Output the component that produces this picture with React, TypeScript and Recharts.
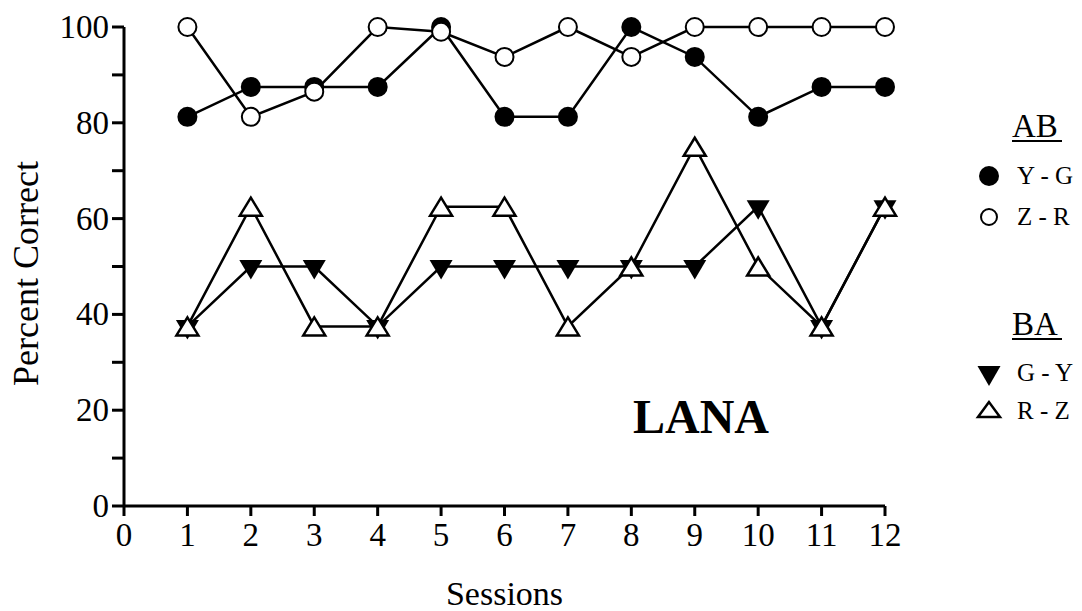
import { LineChart, Line, XAxis, YAxis, Legend } from "recharts";

const sessions = [1, 2, 3, 4, 5, 6, 7, 8, 9, 10, 11, 12];
const ygValues = [81.25, 87.5, 87.5, 87.5, 100, 81.25, 81.25, 100, 93.75, 81.25, 87.5, 87.5];
const zrValues = [100, 81.25, 86.5, 100, 99, 93.75, 100, 93.75, 100, 100, 100, 100];
const gyValues = [37.5, 50, 50, 37.5, 50, 50, 50, 50, 50, 62.5, 37.5, 62.5];
const rzValues = [37.5, 62.5, 37.5, 37.5, 62.5, 62.5, 37.5, 50, 75, 50, 37.5, 62.5];
const xTicks = [0, 1, 2, 3, 4, 5, 6, 7, 8, 9, 10, 11, 12];
const yTicks = [0, 10, 20, 30, 40, 50, 60, 70, 80, 90, 100];

const FONT = '"Liberation Serif", "Times New Roman", serif';

const data = sessions.map((s, i) => ({
  session: s,
  yg: ygValues[i],
  zr: zrValues[i],
  gy: gyValues[i],
  rz: rzValues[i],
}));

// marker shapes
const FilledCircle = (p: any) => <circle key={p.index} cx={p.cx} cy={p.cy} r={10} fill="#000" />;
const OpenCircle = (p: any) => (
  <circle key={p.index} cx={p.cx} cy={p.cy} r={9} fill="#fff" stroke="#000" strokeWidth={2} />
);
const DownTriangle = (p: any) => (
  <polygon
    key={p.index}
    points={`${p.cx - 11.5},${p.cy - 6.5} ${p.cx + 11.5},${p.cy - 6.5} ${p.cx},${p.cy + 13}`}
    fill="#000"
  />
);
const UpTriangle = (p: any) => (
  <polygon
    key={p.index}
    points={`${p.cx},${p.cy - 9} ${p.cx - 11},${p.cy + 9} ${p.cx + 11},${p.cy + 9}`}
    fill="#fff"
    stroke="#000"
    strokeWidth={2.5}
    strokeLinejoin="miter"
  />
);

const YTick = ({ x, y, payload }: any) =>
  payload.value % 20 === 0 ? (
    <text x={x} y={y} textAnchor="end" dominantBaseline="central" fontFamily={FONT} fontSize={33} fill="#000">
      {payload.value}
    </text>
  ) : null;

const XTick = ({ x, y, payload }: any) => (
  <text x={x} y={y} dy="0.72em" textAnchor="middle" fontFamily={FONT} fontSize={33} fill="#000">
    {payload.value}
  </text>
);

const LegendBox = () => (
  <svg width={122} height={340} style={{ display: "block" }}>
    <g fontFamily={FONT} fill="#000">
      <text x={52} y={37} fontSize={33}>AB</text>
      <line x1={52} x2={102} y1={41} y2={41} stroke="#000" strokeWidth={2} />
      <circle cx={29} cy={76} r={10} fill="#000" />
      <text x={57} y={84} fontSize={25}>Y - G</text>
      <circle cx={29} cy={117} r={8} fill="#fff" stroke="#000" strokeWidth={2} />
      <text x={57} y={125} fontSize={25}>Z - R</text>

      <text x={52} y={235} fontSize={33}>BA</text>
      <line x1={52} x2={102} y1={239} y2={239} stroke="#000" strokeWidth={2} />
      <polygon points="17.5,266 40.5,266 29,286" fill="#000" />
      <text x={57} y={281} fontSize={25}>G - Y</text>
      <polygon points="29,302 18,317 40,317" fill="#fff" stroke="#000" strokeWidth={2.5} />
      <text x={57} y={319} fontSize={25}>R - Z</text>
    </g>
  </svg>
);

export default function App() {
  return (
    <div style={{ position: "absolute", left: 0, top: 0, width: 1082, height: 611, background: "#fff" }}>
      <LineChart width={1082} height={611} data={data} margin={{ top: 27, right: 197, bottom: 0, left: 0 }}>
        <XAxis
          dataKey="session"
          type="number"
          domain={[0, 12]}
          ticks={xTicks}
          interval={0}
          height={105}
          tickSize={10}
          tickMargin={6}
          axisLine={{ stroke: "#000", strokeWidth: 3 }}
          tickLine={{ stroke: "#000", strokeWidth: 3 }}
          tick={<XTick />}
          label={({ viewBox }: any) => (
            <text
              x={viewBox.x + viewBox.width / 2}
              y={viewBox.y + viewBox.height - 6}
              textAnchor="middle"
              fontFamily={FONT}
              fontSize={34}
              fill="#000"
            >
              Sessions
            </text>
          )}
        />
        <YAxis
          type="number"
          domain={[0, 100]}
          ticks={yTicks}
          interval={0}
          width={124}
          tickSize={12}
          tickMargin={3}
          axisLine={{ stroke: "#000", strokeWidth: 3 }}
          tickLine={{ stroke: "#000", strokeWidth: 3 }}
          tick={<YTick />}
          label={({ viewBox }: any) => {
            const cx = viewBox.x + 26;
            const cy = viewBox.y + viewBox.height / 2 + 7;
            return (
              <text
                x={cx}
                y={cy}
                transform={`rotate(-90, ${cx}, ${cy})`}
                textAnchor="middle"
                dominantBaseline="central"
                fontFamily={FONT}
                fontSize={36}
                fill="#000"
              >
                Percent Correct
              </text>
            );
          }}
        />
        <Legend
          layout="horizontal"
          align="center"
          verticalAlign="middle"
          content={<LegendBox />}
          wrapperStyle={{ position: "absolute", left: 960, top: 100, width: 122, height: 340 }}
        />
        <Line dataKey="yg" name="Y - G" stroke="#000" strokeWidth={2.5} dot={FilledCircle} isAnimationActive={false} />
        <Line dataKey="zr" name="Z - R" stroke="#000" strokeWidth={2.5} dot={OpenCircle} isAnimationActive={false} />
        <Line dataKey="gy" name="G - Y" stroke="#000" strokeWidth={2.5} dot={DownTriangle} isAnimationActive={false} />
        <Line dataKey="rz" name="R - Z" stroke="#000" strokeWidth={2.5} dot={UpTriangle} isAnimationActive={false} />
      </LineChart>
      <svg
        width={1082}
        height={611}
        style={{ position: "absolute", left: 0, top: 0, pointerEvents: "none" }}
      >
        <text x={701} y={433} textAnchor="middle" fontFamily={FONT} fontWeight="bold" fontSize={48} fill="#000">
          LANA
        </text>
      </svg>
    </div>
  );
}
